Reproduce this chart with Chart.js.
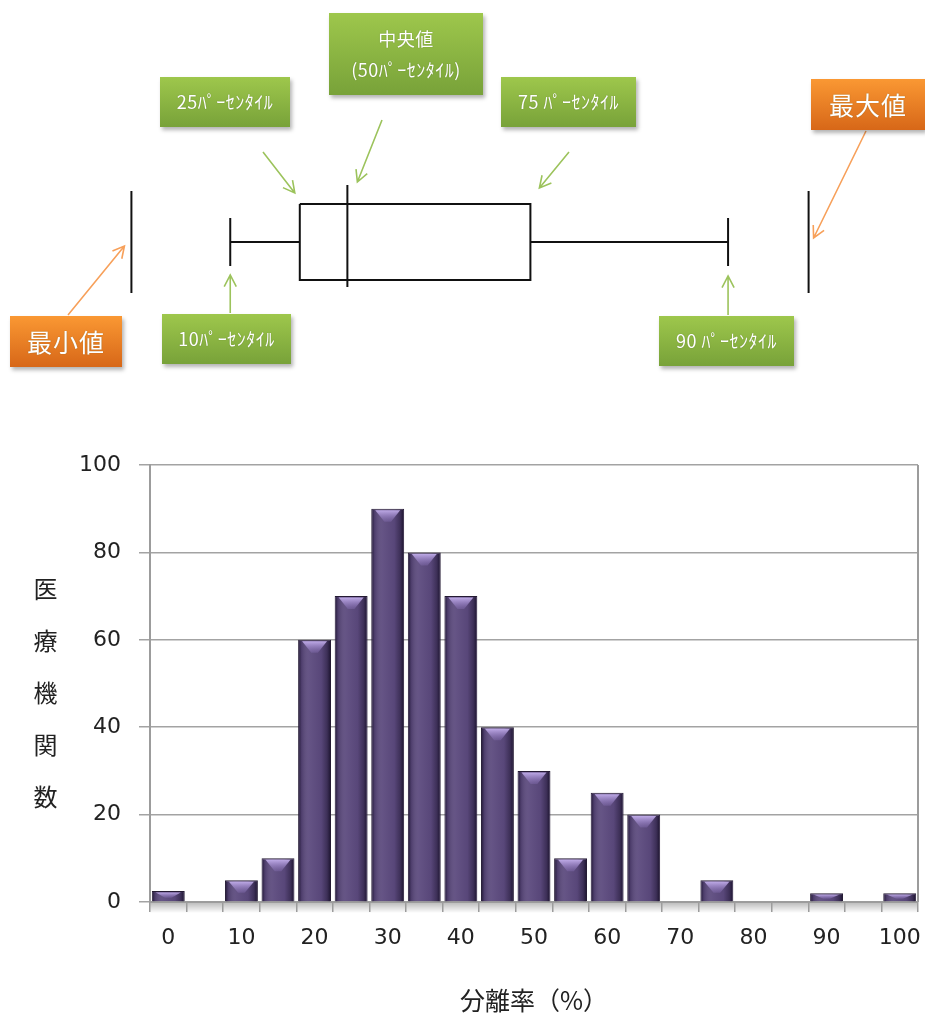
<!DOCTYPE html>
<html>
<head>
<meta charset="utf-8">
<script src="https://cdn.jsdelivr.net/npm/chart.js@4.4.1/dist/chart.umd.min.js"></script>
<style>
  body { margin: 0; background: #fff; width: 925px; height: 1017px; position: relative; overflow: hidden; font-family: "Noto Sans CJK JP", sans-serif; }
  #boxWrap { position: absolute; left: 0; top: 0; width: 925px; height: 390px; }
  #histWrap { position: absolute; left: 0; top: 440px; width: 925px; height: 577px; }
  .callout { position: absolute; display: flex; flex-direction: column; align-items: center; justify-content: center;
             color: #fff; font-size: 18px; letter-spacing: 0.5px; line-height: 1.75; box-shadow: 2px 3px 4px rgba(0,0,0,0.3); box-sizing: border-box;
             text-shadow: 0 0 1px rgba(60,80,20,0.5); }
  .green { background: linear-gradient(#9ec74c, #78a239); }
  .orange { background: linear-gradient(#fa9833, #d76718); font-size: 25px; letter-spacing: 1px; }
  #ytitle { position: absolute; left: 33px; top: 577px; writing-mode: vertical-rl; font-size: 24px; line-height: 24px; letter-spacing: 28px; color: #222; }
</style>
</head>
<body>
<div id="boxWrap"><canvas id="boxPlot"></canvas></div>
<div id="histWrap"><canvas id="histogram"></canvas></div>

<div class="callout green" style="left:160px;top:77px;width:130px;height:50px;">25ﾊﾟｰｾﾝﾀｲﾙ</div>
<div class="callout green" style="left:329px;top:13px;width:154px;height:82px;"><span>中央値</span><span>(50ﾊﾟｰｾﾝﾀｲﾙ)</span></div>
<div class="callout green" style="left:501px;top:77px;width:135px;height:50px;">75 ﾊﾟｰｾﾝﾀｲﾙ</div>
<div class="callout orange" style="left:811px;top:79px;width:114px;height:51px;">最大値</div>
<div class="callout orange" style="left:10px;top:316px;width:112px;height:51px;">最小値</div>
<div class="callout green" style="left:162px;top:314px;width:129px;height:50px;">10ﾊﾟｰｾﾝﾀｲﾙ</div>
<div class="callout green" style="left:659px;top:316px;width:135px;height:50px;">90 ﾊﾟｰｾﾝﾀｲﾙ</div>
<div id="ytitle">医療機関数</div>

<script>
// histogram data
const rateBins = ['0', '5', '10', '15', '20', '25', '30', '35', '40', '45', '50',
                  '55', '60', '65', '70', '75', '80', '85', '90', '95', '100'];
const facilityCounts = [2.5, 0, 5, 10, 60, 70, 90, 80, 70, 40, 30,
                        10, 25, 20, 0, 5, 0, 0, 2, 0, 2];
const yTicks = [0, 20, 40, 60, 80, 100];

// box plot schematic (same units as the histogram's 分離率 axis)
const statNames = ['最小値', '10ﾊﾟｰｾﾝﾀｲﾙ', '25ﾊﾟｰｾﾝﾀｲﾙ', '中央値', '75ﾊﾟｰｾﾝﾀｲﾙ', '90ﾊﾟｰｾﾝﾀｲﾙ', '最大値'];
const statValues = [-5, 8.5, 18, 24.5, 49.5, 76.5, 87.5];

// vertical half-heights of the box plot parts (drawing sizes, px)
const BOX_H = 38, CAP_H = 24, EDGE_H = 51, MED_TOP = 57, MED_BOTTOM = -45;

const [vMin, v10, v25, vMed, v75, v90, vMax] = statValues;

function seg(points) {
    return {
        data: points, showLine: true, pointRadius: 0, borderColor: '#111',
        borderWidth: 2, tension: 0, borderJoinStyle: 'miter', borderCapStyle: 'butt'
    };
}

function arrow(ctx, x1, y1, x2, y2, color) {
    const a = Math.atan2(y2 - y1, x2 - x1);
    const len = 13, spread = Math.PI / 6.5;
    ctx.save();
    ctx.strokeStyle = color;
    ctx.lineWidth = 1.6;
    ctx.beginPath();
    ctx.moveTo(x1, y1);
    ctx.lineTo(x2, y2);
    ctx.moveTo(x2 - len * Math.cos(a - spread), y2 - len * Math.sin(a - spread));
    ctx.lineTo(x2, y2);
    ctx.lineTo(x2 - len * Math.cos(a + spread), y2 - len * Math.sin(a + spread));
    ctx.stroke();
    ctx.restore();
}

const arrowPlugin = {
    id: 'calloutArrows',
    afterDraw(chart) {
        const ctx = chart.ctx;
        const px = v => chart.scales.x.getPixelForValue(v);
        const green = '#9cc35c', orange = '#f7a05a';
        arrow(ctx, 263, 152, px(v25) - 5, 193, green);
        arrow(ctx, 382, 120, px(vMed) + 10, 182, green);
        arrow(ctx, 569, 152, px(v75) + 9, 188, green);
        arrow(ctx, px(v10), 313, px(v10), 275, green);
        arrow(ctx, px(v90), 315, px(v90), 276, green);
        arrow(ctx, 68, 315, px(vMin) - 7, 246, orange);
        arrow(ctx, 866, 131, px(vMax) + 5, 238, orange);
    }
};

new Chart(document.getElementById('boxPlot'), {
    type: 'scatter',
    data: {
        datasets: [
            seg([{x: v25, y: BOX_H}, {x: v75, y: BOX_H}, {x: v75, y: -BOX_H}, {x: v25, y: -BOX_H}, {x: v25, y: BOX_H}]),
            seg([{x: v10, y: 0}, {x: v25, y: 0}]),
            seg([{x: v75, y: 0}, {x: v90, y: 0}]),
            seg([{x: v10, y: -CAP_H}, {x: v10, y: CAP_H}]),
            seg([{x: v90, y: -CAP_H}, {x: v90, y: CAP_H}]),
            seg([{x: vMed, y: MED_BOTTOM}, {x: vMed, y: MED_TOP}]),
            seg([{x: vMin, y: -EDGE_H}, {x: vMin, y: EDGE_H}]),
            seg([{x: vMax, y: -EDGE_H}, {x: vMax, y: EDGE_H}])
        ]
    },
    options: {
        responsive: true,
        maintainAspectRatio: false,
        animation: false,
        layout: { padding: 0 },
        plugins: { legend: { display: false }, tooltip: { enabled: false } },
        scales: {
            x: { type: 'linear', display: false, min: -22.95, max: 103.4 },
            y: { type: 'linear', display: false, min: -148, max: 242 }
        }
    },
    plugins: [arrowPlugin]
});

// glossy bevel look of the bars + right frame + axis shadow
const bevelPlugin = {
    id: 'bevel',
    beforeDraw(chart) {
        const {ctx, chartArea: a} = chart;
        const g = ctx.createLinearGradient(0, a.bottom, 0, a.bottom + 11);
        g.addColorStop(0, 'rgba(0,0,0,0.28)');
        g.addColorStop(1, 'rgba(0,0,0,0)');
        ctx.save();
        ctx.fillStyle = g;
        ctx.fillRect(a.left, a.bottom, a.right - a.left, 11);
        ctx.restore();
    },
    afterDatasetsDraw(chart) {
        const ctx = chart.ctx;
        ctx.save();
        chart.getDatasetMeta(0).data.forEach(bar => {
            const {x, y, base, width} = bar.getProps(['x', 'y', 'base', 'width'], true);
            const h = base - y;
            if (h < 1) return;
            const l = x - width / 2, r = x + width / 2;
            const g = ctx.createLinearGradient(l, 0, r, 0);
            g.addColorStop(0, 'rgba(15,8,30,0.8)');
            g.addColorStop(0.1, 'rgba(15,8,30,0.2)');
            g.addColorStop(0.35, 'rgba(255,255,255,0.05)');
            g.addColorStop(0.7, 'rgba(15,8,30,0.05)');
            g.addColorStop(0.88, 'rgba(15,8,30,0.4)');
            g.addColorStop(1, 'rgba(15,8,30,0.85)');
            ctx.fillStyle = g;
            ctx.fillRect(l + 1, y + 1, width - 2, h - 1);
            const th = Math.min(12, h * 0.55);
            const tg = ctx.createLinearGradient(0, y + 1, 0, y + 1 + th);
            tg.addColorStop(0, 'rgba(195,175,235,1)');
            tg.addColorStop(1, 'rgba(150,125,200,0.25)');
            ctx.fillStyle = tg;
            ctx.beginPath();
            ctx.moveTo(l + 4, y + 1.5);
            ctx.lineTo(r - 4, y + 1.5);
            ctx.lineTo(x + width * 0.1, y + 1 + th);
            ctx.lineTo(x - width * 0.1, y + 1 + th);
            ctx.closePath();
            ctx.fill();
        });
        ctx.restore();
    },
    afterDraw(chart) {
        const {ctx, chartArea: a} = chart;
        ctx.save();
        ctx.strokeStyle = '#9c9c9c';
        ctx.lineWidth = 2;
        ctx.beginPath();
        ctx.moveTo(a.right, a.top);
        ctx.lineTo(a.right, a.bottom);
        ctx.stroke();
        ctx.restore();
    }
};

new Chart(document.getElementById('histogram'), {
    type: 'bar',
    data: {
        labels: rateBins,
        datasets: [{
            data: facilityCounts,
            backgroundColor: '#5c4a7e',
            borderColor: '#241a33',
            borderWidth: 1,
            barPercentage: 0.9,
            categoryPercentage: 1.0
        }]
    },
    options: {
        responsive: true,
        maintainAspectRatio: false,
        animation: false,
        layout: { padding: { top: 25, right: 7, left: 0, bottom: 0 } },
        plugins: { legend: { display: false }, tooltip: { enabled: false } },
        scales: {
            x: {
                offset: true,
                grid: { offset: true, drawOnChartArea: false, drawTicks: true, tickLength: 10, color: '#9c9c9c', lineWidth: 1.5 },
                border: { display: true, color: '#9c9c9c', width: 2 },
                ticks: {
                    autoSkip: false, maxRotation: 0, padding: 13, color: '#222',
                    font: { family: 'DejaVu Sans', size: 22 },
                    callback: (v, i) => (i % 2 === 0 ? rateBins[i] : '')
                },
                title: {
                    display: true, text: '分離率（%）', color: '#222',
                    font: { family: '"Noto Sans CJK JP"', size: 25 },
                    padding: { top: 0, bottom: 2 }
                },
                afterFit: s => { s.height = 115; s.paddingLeft = 0; s.paddingRight = 0; }
            },
            y: {
                min: 0, max: 100,
                afterBuildTicks: s => { s.ticks = yTicks.map(v => ({ value: v })); },
                grid: { color: '#a3a3a3', lineWidth: 1.5, tickLength: 11 },
                border: { display: true, color: '#9c9c9c', width: 2 },
                ticks: { padding: 18, color: '#222', font: { family: 'DejaVu Sans', size: 22 } },
                afterFit: s => { s.width = 150; s.paddingTop = 0; s.paddingBottom = 0; }
            }
        }
    },
    plugins: [bevelPlugin]
});
</script>
</body>
</html>
